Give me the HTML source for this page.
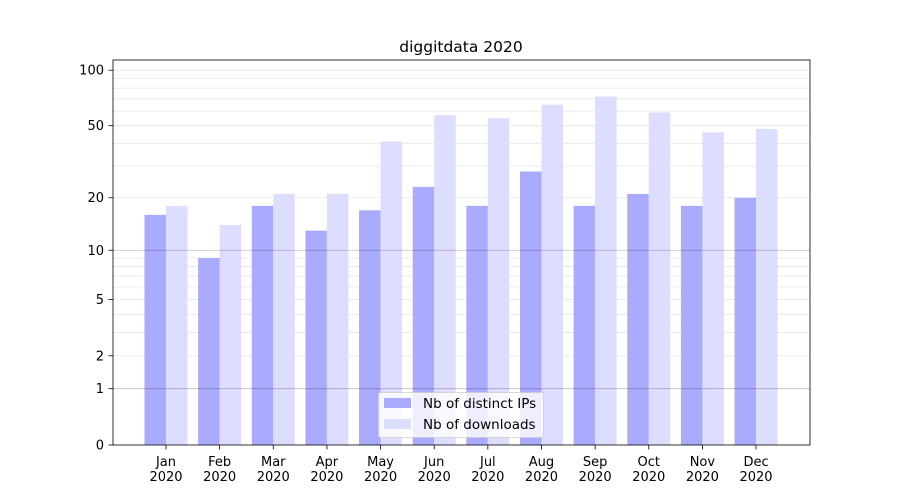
<!DOCTYPE html><html><head><style>body{margin:0;background:#fff}svg{display:block}text{font-family:"DejaVu Sans","Liberation Sans",sans-serif;font-size:13px;fill:#000}</style></head><body>
<svg id="s" width="900" height="500" xmlns="http://www.w3.org/2000/svg"></svg>
<script>
const s=document.getElementById('s');let h='';
const Y=v=>445-187*Math.log10(1+v);
for(let d of [1,10]){for(let k=2;k<10;k++){const y=Y(k*d);h+=`<line x1="113" x2="810" y1="${y}" y2="${y}" stroke="#e6e6e6" stroke-width="0.8"/>`;}}
const ips=[16,9,18,13,17,23,18,28,18,21,18,20],dl=[18,14,21,21,41,57,55,65,72,59,46,48];
const m=['Jan','Feb','Mar','Apr','May','Jun','Jul','Aug','Sep','Oct','Nov','Dec'];
for(let i=0;i<12;i++){const c=166+i*53.64;
h+=`<rect x="${c-21.5}" y="${Y(ips[i])}" width="21.5" height="${445-Y(ips[i])}" fill="#aaaaff"/>`;
h+=`<rect x="${c}" y="${Y(dl[i])}" width="21.5" height="${445-Y(dl[i])}" fill="#ddddff"/>`;
h+=`<line x1="${c}" x2="${c}" y1="445" y2="449.5" stroke="#000" stroke-width="0.8"/>`;
h+=`<text x="${c}" y="466" text-anchor="middle">${m[i]}</text><text x="${c}" y="481" text-anchor="middle">2020</text>`;}
for(let v of [1,10,100]){const y=Y(v);h+=`<line x1="113" x2="810" y1="${y}" y2="${y}" stroke="#000" stroke-opacity="${v==100?0.1:0.25}" stroke-width="0.8"/>`;}
for(let v of [0,1,2,5,10,20,50,100]){const y=Y(v);h+=`<line x1="108.5" x2="113" y1="${y}" y2="${y}" stroke="#000" stroke-width="0.8"/><text x="104" y="${y+4.5}" text-anchor="end">${v}</text>`;}
h+=`<rect x="113" y="60" width="697" height="385" fill="none" stroke="#000" stroke-width="0.8"/>`;
h+=`<text x="461" y="52" text-anchor="middle" style="font-size:15.5px">diggitdata 2020</text>`;
h+=`<rect x="378.5" y="392.5" width="165" height="45" rx="2" fill="#fff" fill-opacity="0.8" stroke="#ccc" stroke-width="0.8"/>`;
h+=`<rect x="384" y="398" width="27" height="10" fill="#aaaaff"/><rect x="384" y="419" width="27" height="10" fill="#ddddff"/>`;
h+=`<text x="423" y="408" style="font-size:13.5px">Nb of distinct IPs</text><text x="423" y="429" style="font-size:13.5px">Nb of downloads</text>`;
s.innerHTML=h;
</script></body></html>
